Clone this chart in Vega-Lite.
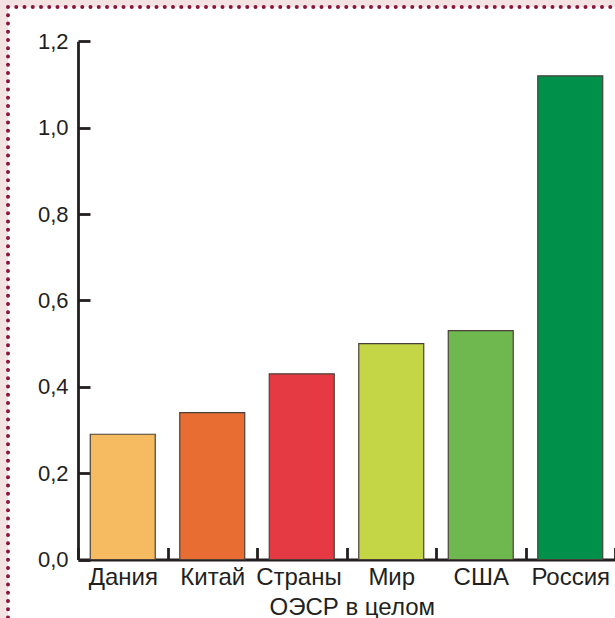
{
  "$schema": "https://vega.github.io/schema/vega-lite/v6.json",
  "autosize": {"type": "none"},
  "padding": {"left": 8, "top": 7, "right": 0, "bottom": 0},
  "width": 607,
  "height": 611,
  "background": "#f3e3e3",
  "data": {
    "values": [
      {"country": "Дания", "value": 0.29},
      {"country": "Китай", "value": 0.34},
      {"country": "Страны ОЭСР в целом", "value": 0.43},
      {"country": "Мир", "value": 0.50},
      {"country": "США", "value": 0.53},
      {"country": "Россия", "value": 1.12}
    ]
  },
  "mark": {"type": "bar", "stroke": "#4a4039", "strokeWidth": 1.2, "width": {"band": 0.726}},
  "encoding": {
    "x": {
      "field": "country",
      "type": "nominal",
      "sort": null,
      "scale": {"range": [70, 607], "paddingInner": 0, "paddingOuter": 0},
      "axis": {
        "orient": "bottom",
        "offset": -58.5,
        "title": null,
        "tickBand": "extent",
        "tickSize": -12,
        "labelAngle": 0,
        "labelAlign": "center",
        "labelBaseline": "top",
        "labelFontSize": 24,
        "labelPadding": 18,
        "labelLimit": 400,
        "labelOverlap": false,
        "labelBound": false,
        "labelLineHeight": 30,
        "labelExpr": "datum.value == 'Страны ОЭСР в целом' ? ['Страны\u00a0\u200b', '\u200b\u00a0\u00a0\u00a0\u00a0\u00a0\u00a0\u00a0\u00a0\u00a0\u00a0\u00a0\u00a0\u00a0\u00a0\u00a0ОЭСР в целом'] : datum.label"
      }
    },
    "y": {
      "field": "value",
      "type": "quantitative",
      "scale": {"domain": [0, 1.2], "range": [552.5, 34.3], "nice": false, "zero": true},
      "axis": {
        "orient": "left",
        "offset": -70,
        "title": null,
        "values": [0, 0.2, 0.4, 0.6, 0.8, 1.0, 1.2],
        "tickSize": -12,
        "labelPadding": 22,
        "labelExpr": "replace(format(datum.value, '.1f'), '.', ',')"
      }
    },
    "color": {
      "field": "country",
      "type": "nominal",
      "legend": null,
      "scale": {
        "domain": ["Дания", "Китай", "Страны ОЭСР в целом", "Мир", "США", "Россия"],
        "range": ["#f6bb60", "#e86d32", "#e53a43", "#c4d545", "#6fb74f", "#00904a"]
      }
    }
  },
  "config": {
    "view": {
      "fill": "white",
      "stroke": "#8a1538",
      "strokeWidth": 4,
      "strokeCap": "round",
      "strokeDash": [
        0,8.25,0,8.25,0,8.25,0,8.25,0,8.25,0,8.25,0,8.25,0,8.25,0,8.25,0,8.25,
        0,8.25,0,8.25,0,8.25,0,8.25,0,8.25,0,8.25,0,8.25,0,8.25,0,8.25,0,8.25,
        0,8.25,0,8.25,0,8.25,0,8.25,0,8.25,0,8.25,0,8.25,0,8.25,0,8.25,0,8.25,
        0,8.25,0,8.25,0,8.25,0,8.25,0,8.25,0,8.25,0,8.25,0,8.25,0,8.25,0,8.25,
        0,8.25,0,8.25,0,8.25,0,8.25,0,8.25,0,8.25,0,8.25,0,8.25,0,8.25,0,8.25,
        0,8.25,0,8.25,0,8.25,0,8.25,0,8.25,0,8.25,0,8.25,0,8.25,0,8.25,0,8.25,
        0,8.25,0,8.25,0,8.25,0,8.25,0,8.25,0,8.25,0,8.25,0,8.25,0,8.25,0,8.25,
        0,8.25,0,8.25,0,8.25,
        0,1223.25,
        0,8.25,0,8.25,0,8.25,0,8.25,0,8.25,0,8.25,0,8.25,0,8.25,0,8.25,0,8.25,
        0,8.25,0,8.25,0,8.25,0,8.25,0,8.25,0,8.25,0,8.25,0,8.25,0,8.25,0,8.25,
        0,8.25,0,8.25,0,8.25,0,8.25,0,8.25,0,8.25,0,8.25,0,8.25,0,8.25,0,8.25,
        0,8.25,0,8.25,0,8.25,0,8.25,0,8.25,0,8.25,0,8.25,0,8.25,0,8.25,0,8.25,
        0,8.25,0,8.25,0,8.25,0,8.25,0,8.25,0,8.25,0,8.25,0,8.25,0,8.25,0,8.25,
        0,8.25,0,8.25,0,8.25,0,8.25,0,8.25,0,8.25,0,8.25,0,8.25,0,8.25,0,8.25,
        0,8.25,0,8.25,0,8.25,0,8.25,0,8.25,0,8.25,0,8.25,0,8.25,0,8.25,0,8.25,
        0,8.25,0,8.25,0,8.25,0,8.25
      ]
    },
    "axis": {
      "grid": false,
      "domainColor": "#231f20",
      "domainWidth": 2.8,
      "tickColor": "#231f20",
      "tickWidth": 2.8,
      "labelFont": "Liberation Sans",
      "labelFontSize": 22,
      "labelColor": "#231f20"
    }
  }
}
